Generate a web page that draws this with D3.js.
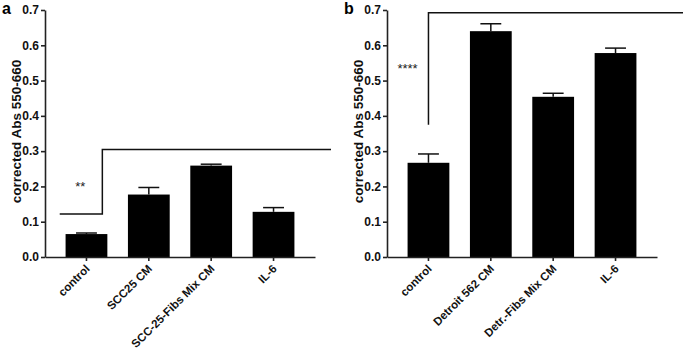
<!DOCTYPE html>
<html>
<head>
<meta charset="utf-8">
<script src="https://cdn.jsdelivr.net/npm/d3@7"></script>
<style>
  body { margin: 0; background: #fff; }
  text { font-family: Arial, "Liberation Sans", sans-serif; }
</style>
</head>
<body>
<div id="chart"></div>
<script>
/* DATA */
const catsA = ["control", "SCC25 CM", "SCC-25-Fibs Mix CM", "IL-6"];
const meansA = [0.065, 0.177, 0.259, 0.128];
const errA = [0.003, 0.020, 0.004, 0.012];

const catsB = ["control", "Detroit 562 CM", "Detr.-Fibs Mix CM", "IL-6"];
const meansB = [0.267, 0.640, 0.454, 0.578];
const errB = [0.025, 0.021, 0.010, 0.014];

const yTicks = [0, 0.1, 0.2, 0.3, 0.4, 0.5, 0.6, 0.7];
const yLabel = "corrected Abs 550-660";

// significance brackets: stars, lower end, upper end (in y units)
const sigA = { stars: "**", low: 0.122, high: 0.305, starY: 0.21 };
const sigB = { stars: "****", low: 0.375, high: 0.692, starY: 0.545 };

/* CONSTANTS */
const width = 684, height = 350;
const panelW = 342;
const margin = { top: 10, bottom: 93, left: 45, right: 27 };

const svg = d3.select("#chart")
  .append("svg")
  .attr("width", width)
  .attr("height", height);

function drawPanel(offset, letter, cats, means, errs, sig, bracketType) {
  const g = svg.append("g").attr("transform", `translate(${offset},0)`);

  const xScale = d3.scaleBand()
    .domain(cats)
    .range([margin.left, panelW - margin.right])
    .paddingInner(0.33)
    .paddingOuter(0.33);

  const yScale = d3.scaleLinear()
    .domain([0, 0.7])
    .range([height - margin.bottom, margin.top]);

  const rows = cats.map((c, i) => ({ cat: c, mean: means[i], err: errs[i] }));

  // bars
  g.selectAll("rect.bar")
    .data(rows)
    .join("rect")
    .attr("class", "bar")
    .attr("x", d => xScale(d.cat))
    .attr("width", xScale.bandwidth())
    .attr("y", d => yScale(d.mean))
    .attr("height", d => yScale(0) - yScale(d.mean))
    .attr("fill", "#000");

  // error bars (upper only)
  const cap = xScale.bandwidth() * 0.25;
  const eb = g.selectAll("g.err")
    .data(rows)
    .join("g")
    .attr("class", "err")
    .attr("stroke", "#111")
    .attr("stroke-width", 1.5);
  eb.append("line")
    .attr("x1", d => xScale(d.cat) + xScale.bandwidth() / 2)
    .attr("x2", d => xScale(d.cat) + xScale.bandwidth() / 2)
    .attr("y1", d => yScale(d.mean))
    .attr("y2", d => yScale(d.mean + d.err));
  eb.append("line")
    .attr("x1", d => xScale(d.cat) + xScale.bandwidth() / 2 - cap)
    .attr("x2", d => xScale(d.cat) + xScale.bandwidth() / 2 + cap)
    .attr("y1", d => yScale(d.mean + d.err))
    .attr("y2", d => yScale(d.mean + d.err));

  // axes
  const yAxis = d3.axisLeft(yScale)
    .tickValues(yTicks)
    .tickFormat(d3.format(".1f"))
    .tickSize(4)
    .tickSizeOuter(0)
    .tickPadding(2);

  const xAxis = d3.axisBottom(xScale)
    .tickSize(4)
    .tickSizeOuter(0);

  const ya = g.append("g")
    .attr("transform", `translate(${margin.left},0)`)
    .call(yAxis);
  ya.selectAll("text")
    .attr("font-size", 12)
    .attr("font-weight", "bold")
    .attr("fill", "#111");

  const xa = g.append("g")
    .attr("transform", `translate(0,${height - margin.bottom})`)
    .call(xAxis);
  xa.selectAll("text")
    .attr("font-size", 11.5)
    .attr("font-weight", "bold")
    .attr("fill", "#111")
    .attr("text-anchor", "end")
    .attr("x", 0)
    .attr("y", 0)
    .attr("dy", 0)
    .attr("transform", "translate(4,12.5) rotate(-45)");

  g.selectAll(".domain, .tick line")
    .attr("stroke", "#222")
    .attr("stroke-width", 1.6);

  // y axis title
  g.append("text")
    .attr("transform", `translate(20.5,${(yScale(0) + yScale(0.7)) / 2 - 2}) rotate(-90)`)
    .attr("text-anchor", "middle")
    .attr("font-size", 13.5)
    .attr("font-weight", "bold")
    .attr("fill", "#111")
    .text(yLabel);

  // panel letter
  g.append("text")
    .attr("x", 2)
    .attr("y", 14)
    .attr("font-size", 16)
    .attr("font-weight", "bold")
    .attr("fill", "#000")
    .text(letter);

  // significance bracket
  const c0 = xScale(cats[0]) + xScale.bandwidth() / 2;
  let path;
  let starX;
  if (bracketType === "step") {
    const xv = c0 + xScale.bandwidth() * 0.38;
    path = [
      [c0 - xScale.bandwidth() * 0.64, yScale(sig.low)],
      [xv, yScale(sig.low)],
      [xv, yScale(sig.high)],
      [panelW - 11, yScale(sig.high)]
    ];
    starX = c0 - xScale.bandwidth() * 0.15;
  } else {
    path = [
      [c0, yScale(sig.low)],
      [c0, yScale(sig.high)],
      [panelW - 1, yScale(sig.high)]
    ];
    starX = c0 - xScale.bandwidth() * 0.5;
  }
  g.append("path")
    .attr("d", d3.line()(path))
    .attr("fill", "none")
    .attr("stroke", "#111")
    .attr("stroke-width", 1.5);

  g.append("text")
    .attr("x", starX)
    .attr("y", yScale(sig.starY) + 8)
    .attr("text-anchor", "middle")
    .attr("font-size", 13)
    .attr("fill", "#222")
    .text(sig.stars);
}

drawPanel(0, "a", catsA, meansA, errA, sigA, "step");
drawPanel(panelW, "b", catsB, meansB, errB, sigB, "plain");
</script>
</body>
</html>
